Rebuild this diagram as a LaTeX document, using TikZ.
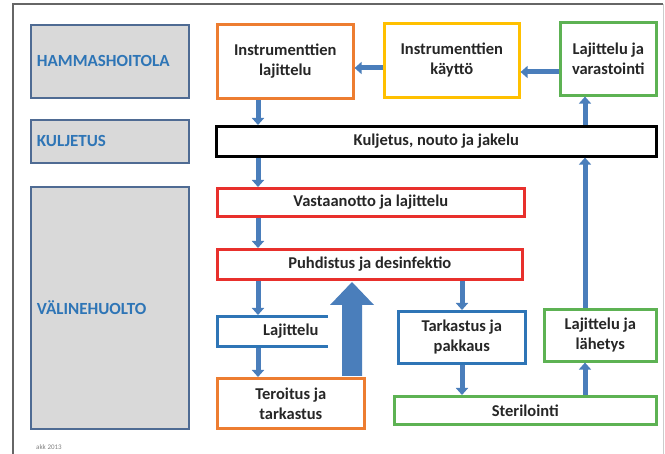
\documentclass[tikz,border=0pt]{standalone}
\usepackage{fontspec}
\setmainfont{Carlito}
\usetikzlibrary{arrows.meta}
\definecolor{aBlue}{HTML}{4A7EBB}
\definecolor{lblBlue}{HTML}{2E75B6}
\definecolor{grayFill}{HTML}{D9D9D9}
\definecolor{grayEdge}{HTML}{4F6B93}
\definecolor{cOrange}{HTML}{ED7D31}
\definecolor{cYellow}{HTML}{FFC000}
\definecolor{cGreen}{HTML}{5DB253}
\definecolor{cRed}{HTML}{E8302C}
\definecolor{cBlue}{HTML}{2E75B6}
\tikzset{
  px/.style={x=1pt,y=-1pt},
  lbl/.style={draw=grayEdge,fill=grayFill,line width=1.8pt,text=lblBlue,font=\fontsize{17}{20}\selectfont\bfseries,align=left,inner xsep=6pt},
  proc/.style={draw=#1,fill=white,line width=2.6pt,font=\fontsize{16.5}{20}\selectfont\bfseries,align=center,text=black!85,inner sep=1pt},
  flow/.style={draw=aBlue,line width=5pt,-{Triangle[width=12pt,length=7pt]}},
}
\begin{document}
\begin{tikzpicture}[px]
\useasboundingbox (0,0) rectangle (665,454);
\clip (0,0) rectangle (665,454);
\fill[white] (0,0) rectangle (665,454);
% frame
\draw[gray!80!black,line width=1.2pt] (13,460) -- (13,4) -- (663,4);
\draw[gray!40,line width=1pt] (663,4) -- (663,460);
% left labels
\node[lbl,minimum width=158pt,minimum height=73pt,anchor=north west,text width=146pt] (hs) at (30,24) {HAMMASHOITOLA};
\node[lbl,minimum width=158pt,minimum height=43pt,anchor=north west,text width=146pt] (kj) at (30,119) {KULJETUS};
\node[lbl,minimum width=158pt,minimum height=242pt,anchor=north west,text width=146pt] (vh) at (30,186) {VÄLINEHUOLTO};
% top row
\node[proc=cOrange,minimum width=136pt,minimum height=74pt,anchor=north west] (il) at (216,23) {Instrumenttien\\lajittelu};
\node[proc=cYellow,minimum width=135pt,minimum height=74pt,anchor=north west] (ik) at (383,22) {Instrumenttien\\käyttö};
\node[proc=cGreen,minimum width=96pt,minimum height=73pt,anchor=north west] (lv) at (559,21) {Lajittelu ja\\varastointi};
% transport bar
\node[proc=black,minimum width=440pt,minimum height=30pt,anchor=north west] (kn) at (215,125) {Kuljetus, nouto ja jakelu};
% center column
\node[proc=cRed,minimum width=307pt,minimum height=28pt,anchor=north west] (va) at (216,187) {Vastaanotto ja lajittelu};
\node[proc=cRed,minimum width=305pt,minimum height=30pt,anchor=north west] (pd) at (216,248) {Puhdistus ja desinfektio};
\node[proc=cBlue,minimum width=147pt,minimum height=30pt,anchor=north west] (lj) at (216,315) {Lajittelu};
\node[proc=cOrange,minimum width=147pt,minimum height=50pt,anchor=north west] (tr) at (216,377) {Teroitus ja\\tarkastus};
\node[proc=cBlue,minimum width=127pt,minimum height=52pt,anchor=north west] (tp) at (397,310) {Tarkastus ja\\pakkaus};
\node[proc=cGreen,minimum width=112pt,minimum height=52pt,anchor=north west] (ll) at (543,308) {Lajittelu ja\\lähetys};
\node[proc=cGreen,minimum width=262pt,minimum height=28pt,anchor=north west] (st) at (393,395) {Sterilointi};
% white backing of the big arrow
\fill[white] (328,283) rectangle (378,375.5);
% big arrow
\fill[aBlue] (342,376) -- (342,305) -- (330,305) -- (352,282) -- (374,305) -- (362,305) -- (362,376) -- cycle;
% arrows
\draw[flow] (ik.west |- 0,68) -- (il.east |- 0,68);
\draw[flow] (lv.west |- 0,72) -- (ik.east |- 0,72);
\draw[flow] (il.south -| 258,0) -- (kn.north -| 258,0);
\draw[flow] (kn.north -| 585,0) -- (lv.south -| 585,0);
\draw[flow] (kn.south -| 258,0) -- (va.north -| 258,0);
\draw[flow] (ll.north -| 585,0) -- (kn.south -| 585,0);
\draw[flow] (va.south -| 258,0) -- (pd.north -| 258,0);
\draw[flow] (pd.south -| 258,0) -- (lj.north -| 258,0);
\draw[flow] (lj.south -| 258,0) -- (tr.north -| 258,0);
\draw[flow] (pd.south -| 462,0) -- (tp.north -| 462,0);
\draw[flow] (tp.south -| 462,0) -- (st.north -| 462,0);
\draw[flow] (st.north -| 585,0) -- (ll.south -| 585,0);
% footer
\node[text=gray,font=\fontsize{7}{8}\selectfont,anchor=north west,inner sep=0pt] (ft) at (36,444) {akk 2013};
\end{tikzpicture}
\end{document}
